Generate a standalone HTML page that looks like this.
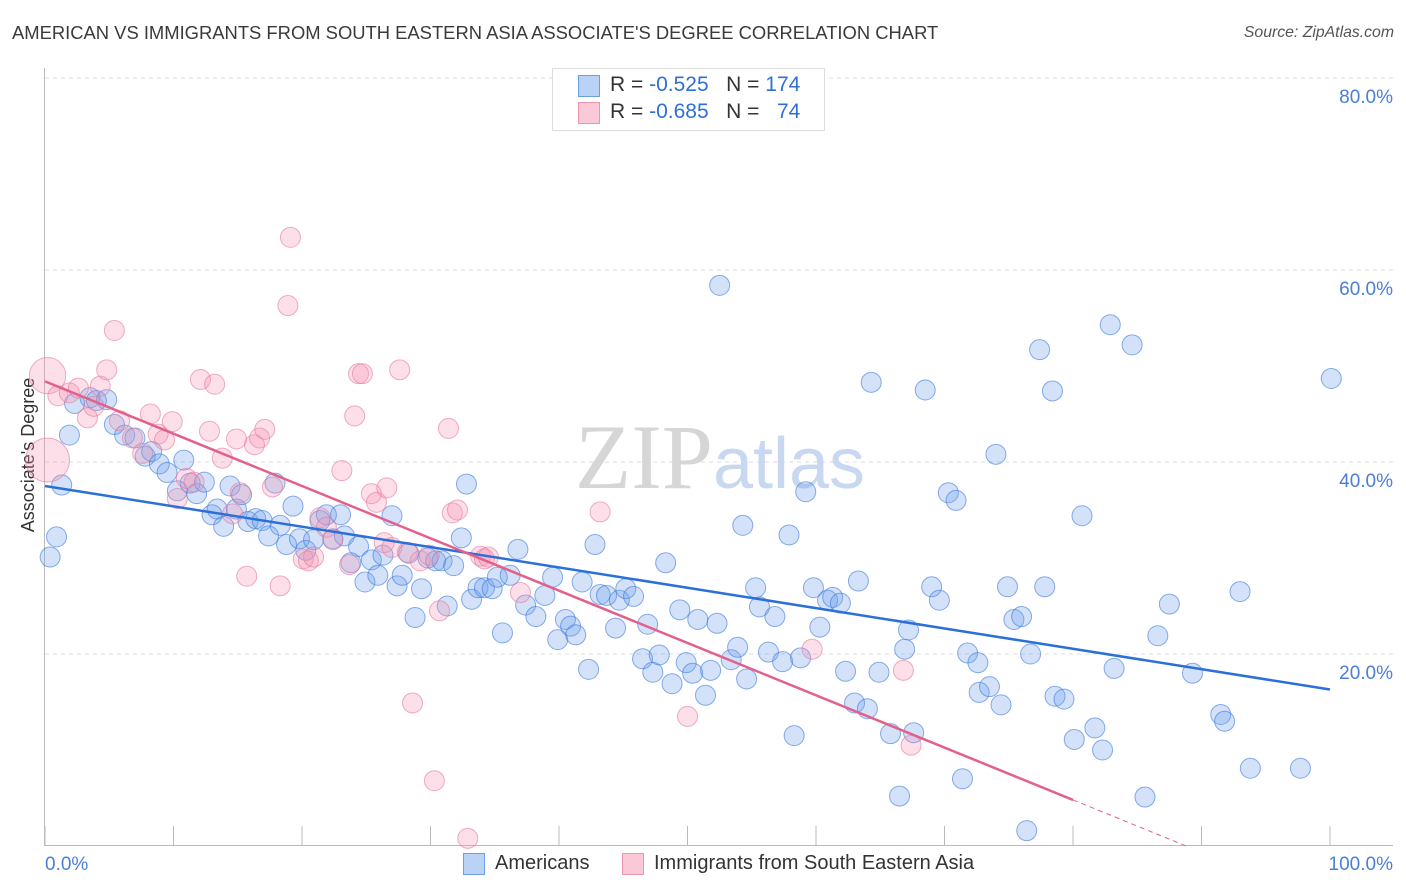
<!DOCTYPE html>
<html><head><meta charset="utf-8">
<style>
body{margin:0;background:#fff;font-family:"Liberation Sans",sans-serif;}
#wrap{position:relative;width:1406px;height:892px;overflow:hidden;}
.t{position:absolute;white-space:nowrap;}
</style></head>
<body>
<div id="wrap">
<div class="t" style="left:12px;top:22px;font-size:18.4px;color:#3a3a3a;">AMERICAN VS IMMIGRANTS FROM SOUTH EASTERN ASIA ASSOCIATE'S DEGREE CORRELATION CHART</div>
<div class="t" style="right:12px;top:24px;font-size:15.8px;color:#555;font-style:italic;">Source: ZipAtlas.com</div>
<svg id="svg" width="1406" height="892" style="position:absolute;left:0;top:0"></svg>
</div>
<script>
const xTicks=[0,10,20,30,40,50,60,70,80,90,100];
const yTicks=[20,40,60,80];
const yTickLabels=["20.0%","40.0%","60.0%","80.0%"];
const blueX=[0.4,0.9,1.3,1.9,2.3,3.5,4.0,4.8,5.4,6.2,7.0,7.8,8.3,8.9,9.5,10.3,10.8,11.3,11.8,12.4,13.0,13.4,13.9,14.4,14.9,15.3,15.8,16.4,16.9,17.4,17.9,18.3,18.8,19.3,19.8,20.3,20.9,21.4,21.9,22.4,23.0,23.3,23.8,24.4,24.9,25.4,25.9,26.3,27.0,27.4,27.8,28.3,28.8,29.3,29.8,30.4,30.9,31.3,31.8,32.4,32.8,33.2,33.7,34.2,34.8,35.2,35.6,36.2,36.8,37.4,38.2,38.9,39.5,39.9,40.5,40.9,41.3,41.8,42.3,42.8,43.2,43.7,44.4,44.7,45.2,45.8,46.5,46.9,47.3,47.8,48.3,48.8,49.4,49.9,50.4,50.8,51.4,51.8,52.3,52.5,53.4,53.9,54.3,54.6,55.3,55.6,56.3,56.8,57.4,57.9,58.3,58.8,59.2,59.8,60.3,60.9,61.3,61.9,62.3,63.0,63.3,64.0,64.3,64.9,65.8,66.5,66.9,67.2,67.6,68.5,69.0,69.6,70.3,70.9,71.4,71.8,72.6,72.7,73.5,74.0,74.4,74.9,75.4,76.0,76.4,76.7,77.4,77.8,78.4,78.6,79.3,80.1,80.7,81.7,82.3,82.9,83.2,84.6,85.6,86.6,87.5,89.3,91.5,91.8,93.0,93.8,97.7,100.1];
const blueY=[30.1,32.2,37.6,42.8,46.1,46.7,46.4,46.5,43.9,42.8,42.5,40.6,41.1,39.8,38.9,37.0,40.2,37.8,36.7,37.9,34.5,35.1,33.3,37.5,35.1,36.6,33.8,34.1,33.9,32.3,37.8,33.4,31.4,35.4,32.0,30.8,31.9,33.9,34.5,32.0,34.5,32.3,29.5,31.2,27.5,29.8,28.2,30.3,34.4,27.1,28.2,30.5,23.8,26.8,30.0,29.7,29.7,25.0,29.2,32.1,37.7,25.7,26.9,26.9,26.8,28.0,22.2,28.2,30.9,25.1,23.9,26.1,28.0,21.5,23.6,22.9,22.0,27.5,18.4,31.4,26.2,26.1,22.7,25.6,26.8,26.0,19.5,23.1,18.1,19.9,29.5,16.9,24.6,19.1,18.0,23.6,15.7,18.3,23.2,58.4,19.4,20.7,33.4,17.4,26.9,24.9,20.2,23.9,19.2,32.4,11.5,19.6,36.9,26.9,22.8,25.6,25.9,25.3,18.2,14.9,27.6,14.3,48.3,18.1,11.7,5.2,20.5,22.5,11.8,47.5,27.0,25.6,36.8,36.0,7.0,20.1,19.1,16.0,16.6,40.8,14.7,27.0,23.6,23.9,1.6,20.0,51.7,27.0,47.4,15.6,15.3,11.1,34.4,12.3,10.0,54.3,18.5,52.2,5.1,21.9,25.2,18.0,13.7,13.0,26.5,8.1,8.1,48.7];
const pinkX=[0.2,0.2,1.0,1.9,2.6,3.3,3.8,4.3,4.8,5.4,5.8,6.8,7.6,8.2,8.8,9.3,9.9,10.3,11.0,11.6,12.1,12.8,13.2,13.8,14.6,14.9,15.2,15.7,16.3,16.7,17.1,17.7,18.3,18.9,19.1,20.1,20.5,20.9,21.4,21.9,22.4,23.1,23.7,24.1,24.4,24.7,25.4,25.8,26.4,26.6,27.0,27.6,28.2,28.6,29.2,29.9,30.3,30.7,31.4,31.7,32.1,32.9,33.9,34.2,34.5,37.0,43.2,50.0,59.7,66.8,67.4];
const pinkY=[49.0,40.2,46.9,47.2,47.7,44.6,45.8,47.9,49.6,53.7,44.3,42.5,40.9,45.0,42.9,42.3,44.2,36.2,38.3,37.9,48.6,43.2,48.1,40.4,34.6,42.4,36.8,28.1,41.8,42.5,43.4,37.4,27.1,56.3,63.4,29.9,29.7,30.1,34.2,33.2,31.9,39.1,29.3,44.8,49.2,49.2,36.7,35.8,31.6,37.3,31.1,49.6,30.6,14.9,29.7,30.3,6.8,24.5,43.5,34.7,35.0,0.8,30.2,29.9,30.1,26.4,34.8,13.5,20.5,18.3,10.5];
const pinkWeight=[3.3,4.8,1,1,1,1,1,1,1,1,1,1,1,1,1,1,1,1,1,1,1,1,1,1,1,1,1,1,1,1,1,1,1,1,1,1,1,1,1,1,1,1,1,1,1,1,1,1,1,1,1,1,1,1,1,1,1,1,1,1,1,1,1,1,1,1,1,1,1,1,1];
const blueLine=[37.5,16.3];
const pinkLine=[48.4,4.8];

const NS="http://www.w3.org/2000/svg";
const svg=document.getElementById('svg');
const X=v=>45+12.85*v;
const Y=v=>846-9.6*v;
function mk(t,a,p){const e=document.createElementNS(NS,t);for(const k in a)e.setAttribute(k,a[k]);(p||svg).appendChild(e);return e;}

yTicks.forEach((t,i)=>{
 const g=mk('line',{x1:45,x2:1393,y1:Y(t),y2:Y(t),stroke:'#dcdcdc','stroke-dasharray':'4,4'});
 
 
 const l=mk('text',{x:1393,y:Y(t)+25,'text-anchor':'end','font-size':'19',fill:'#4a7fd6','font-family':'Liberation Sans, sans-serif'});
 l.textContent=yTickLabels[i];
 
 
});
const ya=mk('line',{x1:44.5,x2:44.5,y1:68,y2:846,stroke:'#bbb'});


const xa=mk('line',{x1:44,x2:1393,y1:845.5,y2:845.5,stroke:'#bbb'});


xTicks.forEach(t=>{
 const tk=mk('line',{x1:X(t),x2:X(t),y1:826,y2:846,stroke:'#bbb'});
 
 
});
[[0,'0.0%','start',45],[100,'100.0%','end',1393]].forEach(d=>{
 const l=mk('text',{x:d[3],y:870,'text-anchor':d[2],'font-size':'19',fill:'#4a7fd6','font-family':'Liberation Sans, sans-serif'});
 l.textContent=d[1];
 
 
});
const yt=mk('text',{x:0,y:0,transform:'translate(34,455) rotate(-90)','text-anchor':'middle','font-size':'18','fill':'#333','font-family':'Liberation Sans, sans-serif'});
yt.textContent="Associate's Degree";


const wm=mk('text',{x:720,y:488,'text-anchor':'middle','font-size':'92','font-family':'Liberation Serif, serif'});
wm.innerHTML='<tspan fill="#d6d6d6">ZIP</tspan><tspan fill="#c8d8f0" font-family="Liberation Sans, sans-serif" font-size="72">atlas</tspan>';



blueX.forEach((x,i)=>{
 const c=mk('circle',{cx:X(x),cy:Y(blueY[i]),r:10,fill:'rgba(110,160,235,0.3)',stroke:'rgba(60,120,220,0.6)','stroke-width':1});
 
 
});
pinkX.forEach((x,i)=>{
 const c=mk('circle',{cx:X(x),cy:Y(pinkY[i]),r:10*Math.sqrt(pinkWeight[i]),fill:'rgba(245,150,180,0.3)',stroke:'rgba(230,120,155,0.6)','stroke-width':1});
 
 
});
const bl=mk('line',{x1:X(0),y1:Y(blueLine[0]),x2:X(100),y2:Y(blueLine[1]),stroke:'#2d6fd8','stroke-width':2.5});


const pl=mk('line',{x1:X(0),y1:Y(pinkLine[0]),x2:X(80),y2:Y(pinkLine[1]),stroke:'#e4608c','stroke-width':2.5});


const slope=(pinkLine[1]-pinkLine[0])/80;
const xz=-pinkLine[0]/slope;
const pd=mk('line',{x1:X(80),y1:Y(pinkLine[1]),x2:X(xz),y2:Y(0),stroke:'#e4608c','stroke-width':1,'stroke-dasharray':'5,4'});


</script>
<div class="t" style="left:552px;top:68px;width:271px;height:61px;border:1px solid #ddd;background:#fff;"></div>
<div class="t" style="left:578px;top:75px;width:20px;height:20px;background:#b9d2f5;border:1px solid #6c9ee6;"></div>
<div class="t" style="left:610px;top:73px;font-size:21px;color:#333;">R = <span style="color:#2f6fd6">-0.525</span>&nbsp;&nbsp;&nbsp;N = <span style="color:#2f6fd6">174</span></div>
<div class="t" style="left:578px;top:102px;width:20px;height:20px;background:#fac8d7;border:1px solid #ec93b0;"></div>
<div class="t" style="left:610px;top:100px;font-size:21px;color:#333;">R = <span style="color:#2f6fd6">-0.685</span>&nbsp;&nbsp;&nbsp;N = &nbsp;&nbsp;<span style="color:#2f6fd6">74</span></div>
<div class="t" style="left:463px;top:853px;width:20px;height:20px;background:#b9d2f5;border:1px solid #6c9ee6;"></div>
<div class="t" style="left:495px;top:852px;font-size:20px;color:#333;">Americans</div>
<div class="t" style="left:622px;top:853px;width:20px;height:20px;background:#fac8d7;border:1px solid #ec93b0;"></div>
<div class="t" style="left:654px;top:852px;font-size:20px;color:#333;">Immigrants from South Eastern Asia</div>
</body></html>
